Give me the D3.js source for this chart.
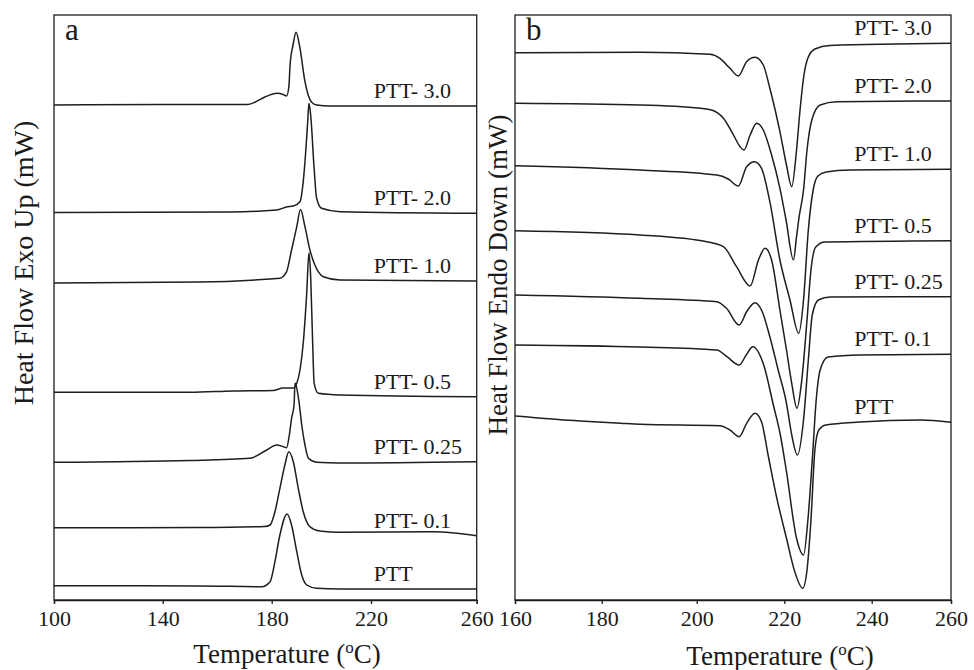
<!DOCTYPE html>
<html>
<head>
<meta charset="utf-8">
<script src="https://cdn.jsdelivr.net/npm/d3@7"></script>
<style>
  body { margin: 0; background: #fff; }
  svg text { font-family: "Liberation Serif", "Times New Roman", serif; fill: #1a1a1a; }
  .curve { fill: none; stroke: #1e1e1e; stroke-width: 1.5; stroke-linejoin: round; }
  .frame { fill: none; stroke: #1e1e1e; stroke-width: 1.3; }
  .axis path, .axis line { stroke: #1e1e1e; stroke-width: 1.3; }
  .axis text { font-size: 22px; }
</style>
</head>
<body>
<div id="chart"></div>
<script>
// (a) cooling scans - [temperature C, heat flow (arb., curves offset)]
const coolTicks = [100, 140, 180, 220, 260];
const coolLabels = ["PTT- 3.0", "PTT- 2.0", "PTT- 1.0", "PTT- 0.5", "PTT- 0.25", "PTT- 0.1", "PTT"];

const coolPTT30 = [[100,495],[140,495.5],[171,495.5],[174,498],[177.5,503],[182.3,506.7],[184.6,505.5],[186,504],[186.9,513],[187.4,535],[188.6,555],[189.8,567.7],[191.4,551.7],[193.4,518.3],[194.7,505],[196.1,497.7],[198.1,495],[203.5,494],[260,494]];
const coolPTT20 = [[100,387.5],[164.7,388],[182,390],[186,393],[188.7,394],[191.4,398.3],[192.7,418.3],[193.8,451.7],[194.5,478.3],[195,496.7],[195.7,485],[197,435],[198.1,401.7],[200.1,391.7],[207.5,388.3],[260,386.7]];
const coolPTT10 = [[100,317],[153.7,318],[179.4,321],[183.3,321.7],[186,328.3],[188,350],[190.1,373.3],[191.6,390.5],[193.4,373.3],[195.4,350],[197.4,335],[200.8,323.3],[207.5,320],[260,319]];
const coolPTT05 = [[100,207.7],[150,207.7],[165.8,209],[180.6,209.5],[184.6,212],[188.7,212],[190.1,216.7],[191.4,230],[192.7,256.7],[194.1,306.7],[195,347.3],[195.7,323.3],[196.5,256.7],[197.1,216.7],[198.8,206.7],[207.5,205],[260,203.3]];
const coolPTT025 = [[100,137.7],[150,139.5],[172,141.7],[178.2,150],[182,155],[184.7,153.3],[186,152.3],[187.1,165],[188,181.7],[189,195],[189.4,217],[190.7,203.3],[191.4,190],[192.1,175],[193.4,155],[194.8,141.7],[198.1,137.7],[207.5,137],[260,138.3]];
const coolPTT01 = [[100,72.3],[153.7,72.5],[177.5,73.5],[179.4,75],[181.3,88.3],[183.3,111.7],[185.3,135],[186.9,148.3],[188.7,138.3],[190.7,111.7],[192.7,88.3],[195.4,73.3],[199.4,69],[207.5,67.7],[243.6,68.3],[260,64.3]];
const coolPTT = [[100,14.3],[153.7,14],[176.3,13.3],[179.4,18.3],[181.3,38.3],[183.3,65],[186.2,86],[188,75],[190.1,48.3],[192.1,25],[194.1,15],[198.1,11.7],[207.5,11],[260,11]];

// (b) heating scans
const heatTicks = [160, 180, 200, 220, 240, 260];
const heatLabels = ["PTT- 3.0", "PTT- 2.0", "PTT- 1.0", "PTT- 0.5", "PTT- 0.25", "PTT- 0.1", "PTT"];

const heatPTT30 = [[160,547.3],[188.1,547.7],[203,545.7],[205.3,541.7],[207.6,531.7],[209.5,524],[211.4,538.3],[213.3,542.7],[215.2,535],[216.7,511.7],[219,468.3],[220.5,435],[221.7,413.3],[222.8,450],[223.6,490],[224.5,525],[225.4,542],[227,551],[230.4,554.5],[260,556.7]];
const heatPTT20 = [[160,496.7],[188.1,495],[200.8,491.7],[203.4,490],[206.1,481.7],[208.4,465],[209.9,453.3],[210.8,450],[212.2,465],[213.7,476.7],[215.2,470],[217.1,445],[219,411.7],[220.4,380],[222.1,340],[222.8,363.3],[223.4,383.3],[224.4,410],[225.2,450],[226.3,480],[228.2,495],[232,498.3],[260,499]];
const heatPTT10 = [[160,434.3],[188.1,430],[204.6,425],[207.2,421],[209.5,414],[211.4,433.3],[213.2,438.3],[214.8,431.7],[216.7,398.3],[219,340],[221.3,300],[223.3,266.7],[224.4,300],[225.5,370],[226.6,410],[227.7,424],[229.6,428],[235.1,430],[260,430.7]];
const heatPTT05 = [[160,369.3],[188.1,365],[202.3,358.3],[206.1,353.3],[209.1,333.3],[212.2,314],[214.1,340],[215.6,351.7],[217.1,340],[219,290],[220.5,250],[221.7,216.7],[222.9,191.7],[224,220],[225.2,280],[226.1,330],[227.2,353],[229.3,358],[260,359.3]];
const heatPTT025 = [[160,305],[188.1,301.7],[204.6,298.3],[206.8,291.7],[209.7,275],[211.4,288.3],[213.3,297.3],[214.8,290],[216.7,263.3],[218.6,230],[220.5,196.7],[221.7,165],[223,145],[224.4,180],[225.5,240],[226.4,285],[227.8,300],[230.5,303],[260,303.3]];
const heatPTT01 = [[160,255],[188.1,253],[204.6,250],[206.9,243.3],[209.7,235],[211.3,245],[212.8,253.3],[215.3,235],[217.5,195],[219.1,165],[220.5,128.3],[222.8,61.7],[224.4,45],[225.4,80],[226.4,140],[227.3,200],[228.2,230],[230,243],[237.3,245],[260,245.7]];
const heatPTT = [[160,184],[175,179],[184,176.7],[188.1,175.7],[205.3,174.3],[207.6,170],[209.7,163.3],[211.4,176.7],[213.3,186.7],[214.8,178.3],[216.3,145],[218.3,101.7],[220.5,61.7],[222.4,28.3],[224.2,11.7],[225.2,30],[226.1,80],[227,150],[227.9,170],[229.5,175],[237.3,178],[252.2,180],[260,177.7]];

const coolSeries = [coolPTT30, coolPTT20, coolPTT10, coolPTT05, coolPTT025, coolPTT01, coolPTT];
const heatSeries = [heatPTT30, heatPTT20, heatPTT10, heatPTT05, heatPTT025, heatPTT01, heatPTT];

const svg = d3.select("#chart").append("svg")
    .attr("width", 974)
    .attr("height", 670);

const plotTop = 15, plotBottom = 600;

// y has no ticks, curves are just stacked
const y = d3.scaleLinear().domain([0, 585]).range([plotBottom, plotTop]);

function panel(opts) {
  // the scanned figure is a bit uneven, so every tick is pinned
  const x = d3.scaleLinear().domain(opts.ticks).range(opts.tickPos);
  const left = opts.tickPos[0], right = opts.tickPos[opts.tickPos.length - 1];
  const g = svg.append("g");

  const line = d3.line()
      .x(d => x(d[0]))
      .y(d => y(d[1]))
      .curve(d3.curveMonotoneX);

  g.selectAll(".curve")
    .data(opts.series)
    .enter().append("path")
      .attr("class", "curve")
      .attr("d", line);

  g.selectAll(".lbl")
    .data(opts.series)
    .enter().append("text")
      .attr("class", "lbl")
      .attr("x", x(opts.labelT))
      .attr("y", d => y(d[d.length - 1][1]) - 8)
      .style("font-size", "22px")
      .text((d, i) => opts.labels[i]);

  g.append("rect")
    .attr("class", "frame")
    .attr("x", left).attr("y", plotTop)
    .attr("width", right - left).attr("height", plotBottom - plotTop);

  g.append("g")
    .attr("class", "axis")
    .attr("transform", `translate(0,${plotBottom})`)
    .call(d3.axisBottom(x).tickValues(opts.ticks).tickSize(4).tickPadding(6).tickFormat(d3.format("d")))
    .selectAll("text").style("fill", "#1a1a1a");

  g.append("text")
    .attr("x", left + 11)
    .attr("y", 40)
    .style("font-size", "31px")
    .text(opts.letter);

  const xt = g.append("text")
    .attr("x", opts.xTitleX)
    .attr("y", opts.xTitleY)
    .attr("text-anchor", "middle")
    .style("font-size", "27px");
  xt.append("tspan").text("Temperature (");
  xt.append("tspan").attr("dy", -10).style("font-size", "17px").text("o");
  xt.append("tspan").attr("dy", 10).text("C)");

  g.append("text")
    .attr("transform", `translate(${opts.yTitleX},${opts.yTitleY}) rotate(-90)`)
    .attr("text-anchor", "middle")
    .style("font-size", opts.yTitleSize)
    .text(opts.yTitle);
}

panel({
  series: coolSeries, labels: coolLabels, ticks: coolTicks,
  tickPos: [54, 162.7, 271.7, 371, 476.7],
  labelT: 221, letter: "a",
  xTitleX: 287, xTitleY: 663,
  yTitle: "Heat Flow Exo Up (mW)", yTitleX: 33, yTitleY: 263, yTitleSize: "28px"
});

panel({
  series: heatSeries, labels: heatLabels, ticks: heatTicks,
  tickPos: [515, 601.7, 696.7, 784.3, 871.7, 951],
  labelT: 236, letter: "b",
  xTitleX: 780, xTitleY: 665,
  yTitle: "Heat Flow Endo Down (mW)", yTitleX: 507, yTitleY: 275, yTitleSize: "27px"
});
</script>
</body>
</html>
